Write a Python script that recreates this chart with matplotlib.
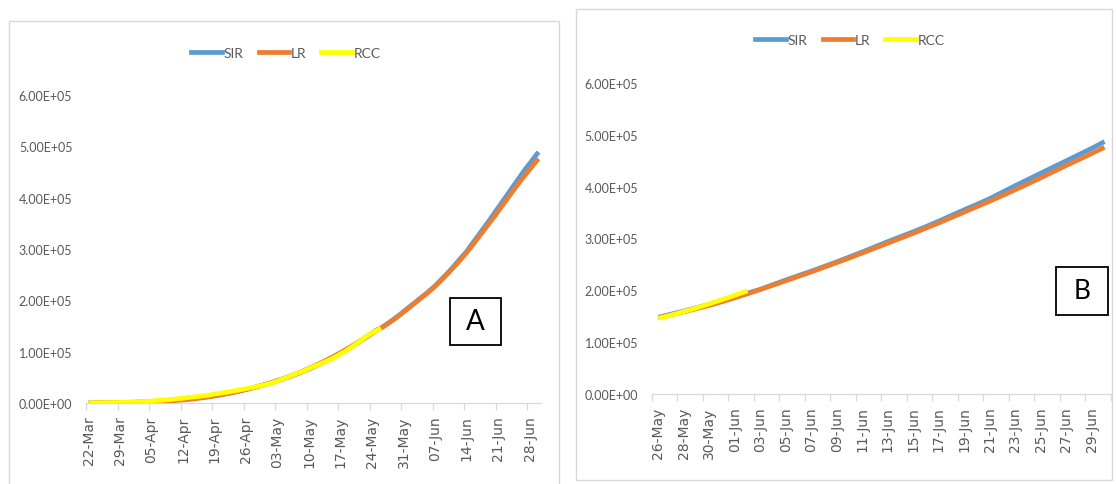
import numpy as np
import matplotlib
matplotlib.use("Agg")
import matplotlib.pyplot as plt
from matplotlib import font_manager
from matplotlib.lines import Line2D
from matplotlib.patches import Rectangle

# ---------------- data ----------------
series_names = ["SIR", "LR", "RCC"]

# Panel A: daily values 22-Mar .. 30-Jun
sir_a_early = [420, 480, 550, 620, 700, 800, 900, 1050, 1200, 1400,
               1600, 1850, 2150, 2500, 2900, 3350, 3850, 4400, 5000, 5650,
               6350, 7100, 7900, 8750, 9700, 10700, 11800, 13000, 14300, 15700,
               17200, 18800, 20500, 22300, 24200, 26200, 28300, 30500, 32800, 35200,
               37700, 40300, 43100, 46000, 49000, 52100, 55400, 58800, 62400, 66100,
               70000, 74000, 78200, 82500, 87000, 91700, 96600, 101700, 107000, 112500,
               118200, 124000, 130000, 136000, 142000]
sir_a_late = [146000, 152000, 158000, 164500, 171000, 178000,
              185000, 192000, 199000, 206000, 213000, 220500, 228000, 237000, 246000, 255000,
              265000, 275000, 285000, 295000, 307000, 319000, 331000, 343000, 355000, 367500,
              380000, 392500, 405000, 417500, 430000, 442500, 455000, 466000, 477500, 489000]
lr_a_early = [260, 300, 340, 390, 450, 520, 600, 700, 820, 960,
              1130, 1330, 1570, 1850, 2180, 2560, 3000, 3500, 4050, 4650,
              5300, 6000, 6800, 7700, 8700, 9800, 11000, 12300, 13700, 15200,
              16800, 18500, 20300, 22200, 24200, 26300, 28500, 30800, 33200, 35700,
              38300, 41000, 43800, 46700, 49800, 53000, 56400, 59900, 63600, 67400,
              71400, 75500, 79800, 84200, 88700, 93400, 98200, 103200, 108300, 113500,
              118900, 124400, 130000, 135700, 141500]
lr_a_late = [146000, 151500, 157500, 163500, 170000, 177000,
             184000, 191000, 198000, 205000, 212000, 219500, 227000, 235500, 244500, 253500,
             263000, 272500, 282500, 292500, 303500, 315000, 326500, 338000, 349500, 361000,
             373000, 385000, 397000, 409000, 421000, 432500, 443500, 454500, 465500, 476000]
rcc_a = [400, 500, 540, 660, 730, 890, 990, 1020, 1250, 1400,
         2000, 2540, 2570, 3080, 3590, 4780, 5310, 5920, 6730, 7600,
         8450, 9210, 10450, 11490, 12320, 13430, 14350, 15720, 17620, 18540,
         20080, 21370, 23080, 24530, 26280, 27890, 29450, 31320, 33060, 34860,
         37260, 39700, 42510, 46440, 49400, 52990, 56350, 59700, 62810, 67160,
         70770, 74290, 78060, 82000, 85780, 90650, 95700, 100330, 106480, 112030,
         118230, 124790, 131420, 136500, 141000, 146000]
labels_a = ["22-Mar", "29-Mar", "05-Apr", "12-Apr", "19-Apr", "26-Apr", "03-May",
            "10-May", "17-May", "24-May", "31-May", "07-Jun", "14-Jun", "21-Jun", "28-Jun"]

# Panel B: daily values 26-May .. 30-Jun
sir_b = [148000, 154000, 160000, 166500, 173000, 180000, 187000, 194500, 202000,
         211000, 220000, 228500, 237000, 246000, 255000, 264500, 274000, 284000,
         294000, 303500, 313000, 323000, 333500, 344500, 355500, 366000, 377000,
         389500, 402000, 414000, 426000, 438000, 450000, 462000, 474000, 487000]
lr_b = [147000, 152500, 158500, 164500, 171000, 178000, 185500, 193500, 201500,
        210000, 218500, 227000, 235500, 244500, 253500, 262500, 272000, 281500,
        291000, 300500, 310000, 320000, 330000, 340500, 351000, 361500, 372000,
        383000, 394000, 405500, 417000, 429000, 441000, 452500, 464000, 476000]
rcc_b = [146000, 152000, 159000, 166000, 174000, 182000, 190500, 199000]
labels_b = ["26-May", "28-May", "30-May", "01-Jun", "03-Jun", "05-Jun", "07-Jun",
            "09-Jun", "11-Jun", "13-Jun", "15-Jun", "17-Jun", "19-Jun", "21-Jun",
            "23-Jun", "25-Jun", "27-Jun", "29-Jun"]

y_ticks = [0, 100000, 200000, 300000, 400000, 500000, 600000]
y_labels = ["0.00E+00", "1.00E+05", "2.00E+05", "3.00E+05", "4.00E+05", "5.00E+05", "6.00E+05"]

# ---------------- style ----------------
colors = {"SIR": "#5B9BD5", "LR": "#ED7D31", "RCC": "#FFFF00"}
grey_txt = "#595959"
grey_line = "#D9D9D9"

installed = {f.name for f in font_manager.fontManager.ttflist}
narrow = "Liberation Sans Narrow" if "Liberation Sans Narrow" in installed else "Lato"

W, H = 1116, 485
fig = plt.figure(figsize=(W / 100, H / 100), dpi=100)
fig.patch.set_facecolor("white")


def px_rect(left, top, right, bottom):
    return [left / W, 1 - bottom / H, (right - left) / W, (bottom - top) / H]


def frame(left, top, right, bottom, color, lw):
    fig.patches.append(Rectangle((left / W, 1 - bottom / H), (right - left) / W,
                                 (bottom - top) / H, transform=fig.transFigure,
                                 fill=False, edgecolor=color, linewidth=lw))


def panel(rect, data, n_days, label_step, labels, legend_center, tag_box, tag, tag_size):
    ax = fig.add_axes(px_rect(*rect))
    ax.set_facecolor("none")
    lw = 3.4
    z = {"SIR": 2, "LR": 3, "RCC": 4}
    for name in series_names:
        vals = data[name]
        ax.plot(np.arange(len(vals)), vals, color=colors[name], lw=lw,
                solid_capstyle="butt", zorder=z[name])
    ax.set_xlim(-0.5, n_days - 0.5)
    ax.set_ylim(0, 600000)
    for s in ("top", "right", "left"):
        ax.spines[s].set_visible(False)
    ax.spines["bottom"].set_color(grey_line)
    ax.spines["bottom"].set_linewidth(0.9)
    ax.set_yticks(y_ticks)
    ax.set_yticklabels(y_labels, fontfamily=narrow, fontsize=9, color=grey_txt)
    ax.tick_params(axis="y", length=0, pad=10)
    ax.set_xticks(np.arange(len(labels)) * label_step)
    ax.set_xticklabels(labels, rotation=90, fontfamily="DejaVu Sans",
                       fontsize=10, color=grey_txt)
    ax.tick_params(axis="x", which="major", length=0, pad=9)
    ax.set_xticks(np.arange(-0.5, n_days, label_step), minor=True)
    ax.tick_params(axis="x", which="minor", length=5, width=0.9, color=grey_line)

    handles = [Line2D([], [], color=colors[n], lw=3.4) for n in series_names]
    leg = fig.legend(handles, series_names, ncol=3, loc="center",
                     bbox_to_anchor=(legend_center[0] / W, 1 - legend_center[1] / H),
                     bbox_transform=fig.transFigure, frameon=False,
                     handlelength=2.2, handletextpad=0.1, columnspacing=1.1,
                     prop={"family": narrow, "size": 10})
    for t in leg.get_texts():
        t.set_color(grey_txt)

    l, t_, r, b = tag_box
    frame(l, t_, r, b, "black", 1.3)
    fig.text((l + r) / 2 / W, 1 - (t_ + b) / 2 / H, tag, ha="center", va="center",
             fontfamily=narrow, fontsize=tag_size, color="black")
    return ax


# outer chart frames
frame(9, 22, 559, 492, grey_line, 1.0)
frame(576, 10, 1112, 481, grey_line, 1.0)

panel((86.25, 96, 540.75, 404),
      {"SIR": sir_a_early + sir_a_late, "LR": lr_a_early + lr_a_late, "RCC": rcc_a},
      101, 7, labels_a, (286, 54), (450, 299, 501, 346), "A", 20)

panel((651.9, 84, 1110.9, 395),
      {"SIR": sir_b, "LR": lr_b, "RCC": rcc_b},
      36, 2, labels_b, (850, 41), (1056, 268, 1108, 316), "B", 19)

fig.savefig("out.png", dpi=100)
